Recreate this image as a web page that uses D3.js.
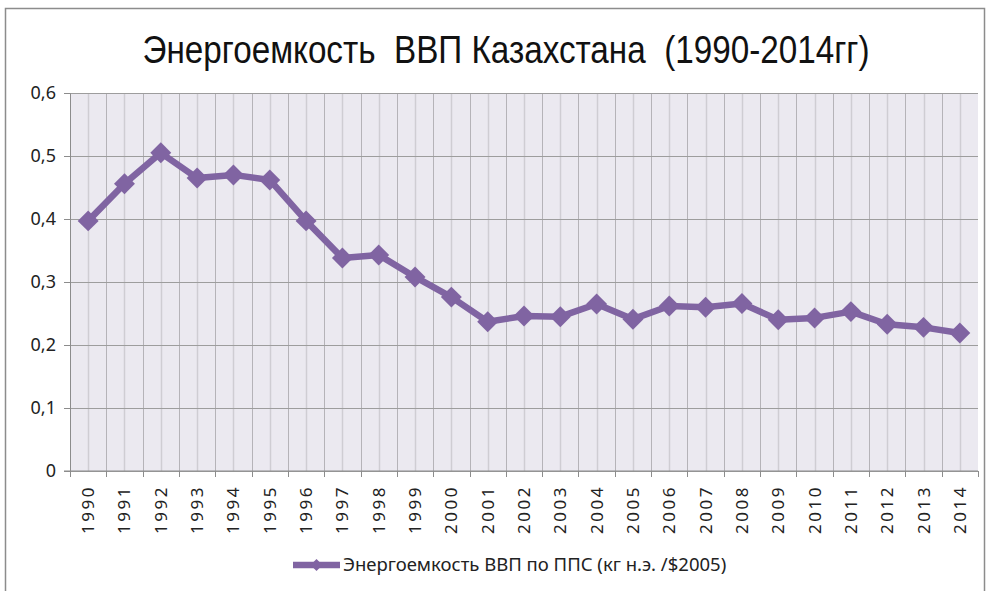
<!DOCTYPE html>
<html>
<head>
<meta charset="utf-8">
<title>Энергоемкость ВВП Казахстана</title>
<script src="https://d3js.org/d3.v7.min.js"></script>
<style>
  body { margin: 0; background: #fff; }
  .axis text { font-family: "Noto Sans", "Open Sans", sans-serif; fill: #222; }
</style>
</head>
<body>
<script>
  // data
  var years = [1990, 1991, 1992, 1993, 1994, 1995, 1996, 1997, 1998, 1999, 2000, 2001, 2002,
               2003, 2004, 2005, 2006, 2007, 2008, 2009, 2010, 2011, 2012, 2013, 2014];
  var intensity = [0.397, 0.456, 0.505, 0.465, 0.470, 0.462, 0.397, 0.338, 0.343, 0.308, 0.276, 0.237, 0.246,
                   0.245, 0.265, 0.241, 0.262, 0.260, 0.266, 0.240, 0.243, 0.253, 0.233, 0.228, 0.219];
  var yTicks = [0, 0.1, 0.2, 0.3, 0.4, 0.5, 0.6];
  var title = "Энергоемкость  ВВП Казахстана  (1990-2014гг)";
  var seriesName = "Энергоемкость ВВП по ППС (кг н.э. /$2005)";

  var width = 988, height = 591;
  var padding = {left: 70, right: 10, top: 93, bottom: 120};
  var purple = "#8064a2";

  var svg = d3.select("body").append("svg")
    .attr("width", width)
    .attr("height", height);

  // chart frame
  svg.append("rect")
    .attr("x", 5.5).attr("y", 8.5)
    .attr("width", width - 9).attr("height", height)
    .attr("fill", "#fff")
    .attr("stroke", "#8c8c8c")
    .attr("stroke-width", 1.5);

  var xScale = d3.scaleBand()
    .domain(years)
    .range([padding.left, width - padding.right]);
  var yScale = d3.scaleLinear()
    .domain([0, 0.6])
    .range([height - padding.bottom, padding.top]);

  var bw = xScale.bandwidth();
  var plotW = width - padding.left - padding.right;
  var plotH = height - padding.top - padding.bottom;

  // plot background
  svg.append("rect")
    .attr("x", padding.left).attr("y", padding.top)
    .attr("width", plotW).attr("height", plotH)
    .attr("fill", "#ebe9f0");

  // vertical grid: band centres (light) and band edges (darker)
  svg.append("g").selectAll("line.c")
    .data(years)
    .enter().append("line")
    .attr("x1", function(d){ return Math.round(xScale(d) + bw / 2) + 0.5; })
    .attr("x2", function(d){ return Math.round(xScale(d) + bw / 2) + 0.5; })
    .attr("y1", padding.top).attr("y2", height - padding.bottom)
    .attr("stroke", "#cfcdd3").attr("stroke-width", 1.5);

  svg.append("g").selectAll("line.e")
    .data(years.slice(1))
    .enter().append("line")
    .attr("x1", function(d){ return Math.round(xScale(d)) + 0.5; })
    .attr("x2", function(d){ return Math.round(xScale(d)) + 0.5; })
    .attr("y1", padding.top).attr("y2", height - padding.bottom)
    .attr("stroke", "#b5b3b8").attr("stroke-width", 1);

  // horizontal grid
  svg.append("g").selectAll("line")
    .data(yTicks)
    .enter().append("line")
    .attr("x1", padding.left).attr("x2", width - padding.right)
    .attr("y1", function(d){ return Math.round(yScale(d)) + 0.5; })
    .attr("y2", function(d){ return Math.round(yScale(d)) + 0.5; })
    .attr("stroke", "#9d9d9d").attr("stroke-width", 1.2);

  // y axis
  var yAxis = d3.axisLeft(yScale)
    .tickValues(yTicks)
    .tickSize(6)
    .tickPadding(8)
    .tickFormat(function(d){ return d === 0 ? "0" : d3.format(".1f")(d).replace(".", ","); });
  var gy = svg.append("g")
    .attr("class", "axis")
    .attr("transform", "translate(" + padding.left + ",0)")
    .call(yAxis);
  gy.selectAll("text").attr("font-size", 18);
  gy.selectAll("line, path").attr("stroke", "#8c8c8c");

  // x axis: ticks at band edges
  var gx = svg.append("g")
    .attr("class", "axis")
    .attr("transform", "translate(0," + (height - padding.bottom) + ")");
  gx.append("line")
    .attr("x1", padding.left - 6).attr("x2", width - padding.right)
    .attr("stroke", "#8c8c8c").attr("stroke-width", 1.2);
  gx.selectAll("line.tick")
    .data(years.concat([null]))
    .enter().append("line")
    .attr("x1", function(d, i){ return Math.round(padding.left + i * bw) + 0.5; })
    .attr("x2", function(d, i){ return Math.round(padding.left + i * bw) + 0.5; })
    .attr("y1", 0).attr("y2", 6)
    .attr("stroke", "#8c8c8c");
  gx.selectAll("text")
    .data(years)
    .enter().append("text")
    .attr("transform", function(d){
      return "translate(" + (xScale(d) + bw / 2 + 6) + ",14) rotate(-90)";
    })
    .attr("text-anchor", "end")
    .attr("font-size", 17)
    .attr("letter-spacing", 2.5)
    .text(function(d){ return d; });

  // series line
  var line = d3.line()
    .x(function(d, i){ return xScale(years[i]) + bw / 2; })
    .y(function(d){ return yScale(d); });

  svg.append("path")
    .datum(intensity)
    .attr("d", line)
    .attr("fill", "none")
    .attr("stroke", purple)
    .attr("stroke-width", 6.5)
    .attr("stroke-linejoin", "round");

  var diamond = d3.symbol().type(d3.symbolDiamond2).size(280);
  svg.append("g").selectAll("path")
    .data(intensity)
    .enter().append("path")
    .attr("d", diamond)
    .attr("transform", function(d, i){
      return "translate(" + (xScale(years[i]) + bw / 2) + "," + yScale(d) + ")";
    })
    .attr("fill", purple);

  // title, condensed like the original
  svg.append("text")
    .attr("transform", "translate(" + (width / 2 + 12) + ",63) scale(0.875,1)")
    .attr("text-anchor", "middle")
    .attr("font-family", "'Liberation Sans', Arial, sans-serif")
    .attr("font-size", 38)
    .attr("fill", "#111")
    .style("white-space", "pre")
    .text(title);

  // legend
  var lg = svg.append("g").attr("transform", "translate(293,565)");
  lg.append("line")
    .attr("x1", 0).attr("x2", 47)
    .attr("stroke", purple).attr("stroke-width", 6.5);
  lg.append("path")
    .attr("d", d3.symbol().type(d3.symbolDiamond2).size(90))
    .attr("transform", "translate(23.5,0)")
    .attr("fill", purple);
  lg.append("text")
    .attr("x", 50).attr("y", 6)
    .attr("font-family", "'Noto Sans', 'Open Sans', sans-serif")
    .attr("font-size", 18.5)
    .attr("fill", "#222")
    .text(seriesName);
</script>
</body>
</html>
